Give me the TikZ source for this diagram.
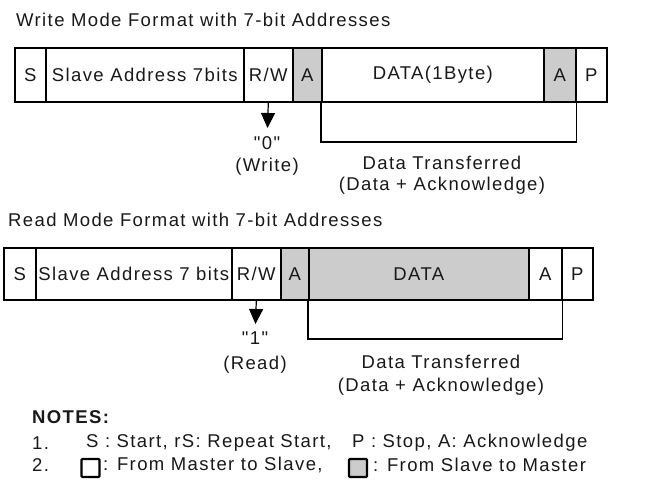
\documentclass[tikz,border=0pt]{standalone}
\usepackage{fontspec}
\setmainfont{Liberation Sans}
\newfontfamily\lspfont{Liberation Sans}[LetterSpace=7.5]
\usetikzlibrary{arrows.meta}
\definecolor{ackgrey}{RGB}{204,204,204}
\definecolor{txt}{RGB}{25,25,25}
\begin{document}
\begin{tikzpicture}[x=1bp,y=-1bp,
  lbl/.style={inner sep=0pt, text=txt, font=\lspfont\fontsize{18.5bp}{21bp}\selectfont},
  lblw/.style={lbl, anchor=west},
  field/.style={lbl, draw=black, line width=1.6bp, anchor=north west},
  wfield/.style={field, minimum height=54bp},
  rfield/.style={field, minimum height=52bp},
  grey/.style={fill=ackgrey},
  brk/.style={draw=black, line width=1.6bp},
  stem/.style={draw=black, line width=1.2bp, -{Triangle[width=14bp,length=15bp]}},
  keybox/.style={draw=black, line width=2.2bp, rounded corners=1bp, minimum width=18bp, minimum height=18bp, inner sep=0pt}
]
\path[fill=white, use as bounding box] (0,0) rectangle (651,488);

% ---------- Write mode ----------
\node[lblw] (wtitle) at (16,20) {Write Mode Format with 7-bit Addresses};
\node[wfield, minimum width=31bp] (ws) at (14,47) {S};
\node[wfield, minimum width=198bp] (wsa) at (45,47) {Slave Address 7bits};
\node[wfield, minimum width=49bp] (wrw) at (243,47) {R/W};
\node[wfield, grey, minimum width=29bp] (wa1) at (292,47) {A};
\node[wfield, minimum width=222bp] (wd) at (321,47) {DATA(1Byte)};
\node[wfield, grey, minimum width=32bp] (wa2) at (543,47) {A};
\node[wfield, minimum width=31bp] (wp) at (575,47) {P};

\coordinate (wtip) at (267.5,128);
\draw[stem] (wrw.south) -- (wtip);
\node[lbl] (wzero) at (267,143) {"0"};
\node[lbl] (wwrite) at (267,167) {(Write)};

\coordinate (wbot) at (321,142);
\draw[brk] (wd.south west) -- (wbot) -| (wa2.south east);
\node[lbl] (wdt) at (442,163) {Data Transferred};
\node[lbl] (wda) at (442,186) {(Data + Acknowledge)};

% ---------- Read mode ----------
\node[lblw] (rtitle) at (8,220) {Read Mode Format with 7-bit Addresses};
\node[rfield, minimum width=32bp] (rs) at (3,247) {S};
\node[rfield, minimum width=196bp] (rsa) at (35,247) {Slave Address 7 bits};
\node[rfield, minimum width=49bp] (rrw) at (231,247) {R/W};
\node[rfield, grey, minimum width=28bp] (ra1) at (280,247) {A};
\node[rfield, grey, minimum width=220bp] (rd) at (308,247) {DATA};
\node[rfield, minimum width=33bp] (ra2) at (528,247) {A};
\node[rfield, minimum width=31bp] (rp) at (561,247) {P};

\coordinate (rtip) at (255.5,324);
\draw[stem] (rrw.south) -- (rtip);
\node[lbl] (rone) at (255,338) {"1"};
\node[lbl] (rread) at (255,365) {(Read)};

\coordinate (rbot) at (308,339);
\draw[brk] (rd.south west) -- (rbot) -| (ra2.south east);
\node[lbl] (rdt) at (441,362) {Data Transferred};
\node[lbl] (rda) at (441,387) {(Data + Acknowledge)};

% ---------- Notes ----------
\node[lblw, font=\lspfont\bfseries\fontsize{18.5bp}{21bp}\selectfont] (notes) at (32,417) {NOTES:};
\node[lblw] (n1) at (32,443) {1.};
\node[lblw] (n1a) at (86,443) {S : Start, rS: Repeat Start,};
\node[lblw] (n1b) at (352,443) {P : Stop, A: Acknowledge};
\node[lblw] (n2) at (32,465) {2.};
\node[keybox, fill=white] (kw) at (90.5,468) {};
\node[lblw] (n2a) at (103,465) {: From Master to Slave,};
\node[keybox, fill=ackgrey] (kg) at (358,468) {};
\node[lblw] (n2b) at (373,465) {: From Slave to Master};
\end{tikzpicture}
\end{document}
